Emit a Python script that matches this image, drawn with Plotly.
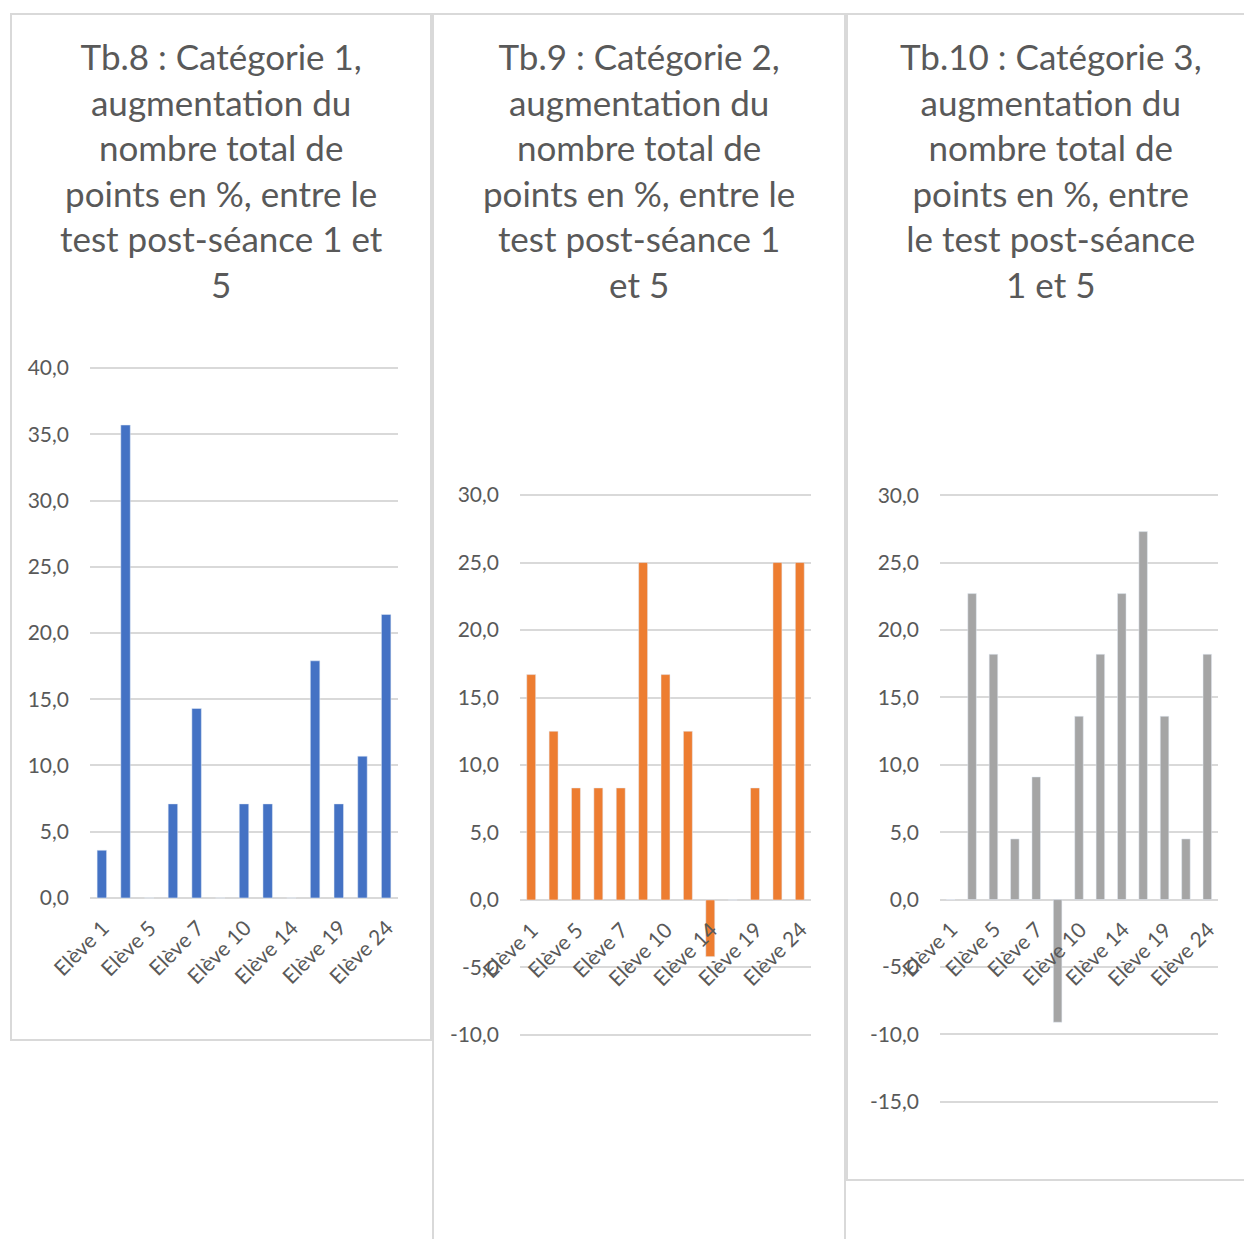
import plotly.graph_objects as go

# ---- data ----
cats = ["Elève 1", "Elève 3", "Elève 5", "Elève 6", "Elève 7", "Elève 9", "Elève 10",
        "Elève 12", "Elève 14", "Elève 17", "Elève 19", "Elève 22", "Elève 24"]
shown_labels = ["Elève 1", "Elève 5", "Elève 7", "Elève 10", "Elève 14", "Elève 19", "Elève 24"]

cat1_values = [3.6, 35.7, 0.0, 7.1, 14.3, 0.0, 7.1, 7.1, 0.0, 17.9, 7.1, 10.7, 21.4]
cat2_values = [16.7, 12.5, 8.3, 8.3, 8.3, 25.0, 16.7, 12.5, -4.2, 0.0, 8.3, 25.0, 25.0]
cat3_values = [0.0, 22.7, 18.2, 4.5, 9.1, -9.1, 13.6, 18.2, 22.7, 27.3, 13.6, 4.5, 18.2]

titles = [
    "Tb.8 : Catégorie 1,<br>augmentation du<br>nombre total de<br>points en %, entre le<br>test post-séance 1 et<br>5",
    "Tb.9 : Catégorie 2,<br>augmentation du<br>nombre total de<br>points en %, entre le<br>test post-séance 1<br>et 5",
    "Tb.10 : Catégorie 3,<br>augmentation du<br>nombre total de<br>points en %, entre<br>le test post-séance<br>1 et 5",
]
colors = ["#4472C4", "#ED7D31", "#A5A5A5"]
y_ticks = [[0, 5, 10, 15, 20, 25, 30, 35, 40],
           [-10, -5, 0, 5, 10, 15, 20, 25, 30],
           [-15, -10, -5, 0, 5, 10, 15, 20, 25, 30]]

# ---- layout geometry (pixels) ----
W, H = 1244, 1239
def fx(px): return px / W
def fy(py): return 1 - py / H

plot_x = [(90, 398), (520, 811), (940, 1218)]
plot_y = [(367, 899), (494, 1036), (494, 1103)]
panels = [(11, 14, 431, 1040), (433, 14, 845, 1250), (847, 14, 1260, 1180)]
title_cx = [221, 639, 1051]

fig = go.Figure()
series = [cat1_values, cat2_values, cat3_values]
grey = "#595959"

for i, vals in enumerate(series):
    n = "" if i == 0 else str(i + 1)
    ticks = y_ticks[i]
    pad = 0.002 * (ticks[-1] - ticks[0])
    fig.add_trace(go.Bar(x=cats, y=vals, marker_color=colors[i], xaxis="x" + n, yaxis="y" + n,
                         showlegend=False))
    fig.update_layout(**{
        "xaxis" + n: dict(domain=[fx(plot_x[i][0]), fx(plot_x[i][1])], anchor="y" + n,
                          range=[-0.5, len(cats) - 0.5], autorange=False,
                          showticklabels=False, showgrid=False, zeroline=False, showline=False,
                          automargin=False,
                          type="category", categoryorder="array", categoryarray=cats),
        "yaxis" + n: dict(domain=[fy(plot_y[i][1]), fy(plot_y[i][0])], anchor="x" + n,
                          range=[ticks[0] - pad, ticks[-1] + pad], autorange=False,
                          tickmode="array", tickvals=ticks,
                          ticktext=[f"{v:.1f}".replace(".", ",") for v in ticks],
                          showgrid=True, gridcolor="#D9D9D9", gridwidth=1.5,
                          zeroline=True, zerolinecolor="#D9D9D9", zerolinewidth=1.5,
                          showline=False, ticks="", ticklabelstandoff=20, automargin=False,
                          tickfont=dict(family="Lato", size=21, color=grey)),
    })
    # category labels next to the zero line
    for c in shown_labels:
        fig.add_annotation(x=c, y=0, xref="x" + n, yref="y" + n, text=c, showarrow=False,
                           textangle=-45, xanchor="right", yanchor="top",
                           xshift=14, yshift=-14,
                           font=dict(family="Lato", size=21, color=grey))
    # title
    fig.add_annotation(x=fx(title_cx[i]), y=fy(33), xref="paper", yref="paper",
                       text=titles[i], showarrow=False, xanchor="center", yanchor="top",
                       align="center",
                       font=dict(family="Lato", size=35, color=grey))
    # panel border
    x0, y0, x1, y1 = panels[i]
    fig.add_shape(type="rect", xref="paper", yref="paper",
                  x0=fx(x0), x1=fx(x1), y0=fy(y1), y1=fy(y0),
                  line=dict(color="#D9D9D9", width=2), layer="below")

fig.update_layout(width=W, height=H,
                  margin=dict(l=0, r=0, t=0, b=0, pad=0, autoexpand=False),
                  paper_bgcolor="white", plot_bgcolor="white",
                  bargap=0.6)

fig.write_html("out.html", config={"displayModeBar": False},
               post_script="document.body.style.margin='0';document.body.style.overflow='hidden';")
